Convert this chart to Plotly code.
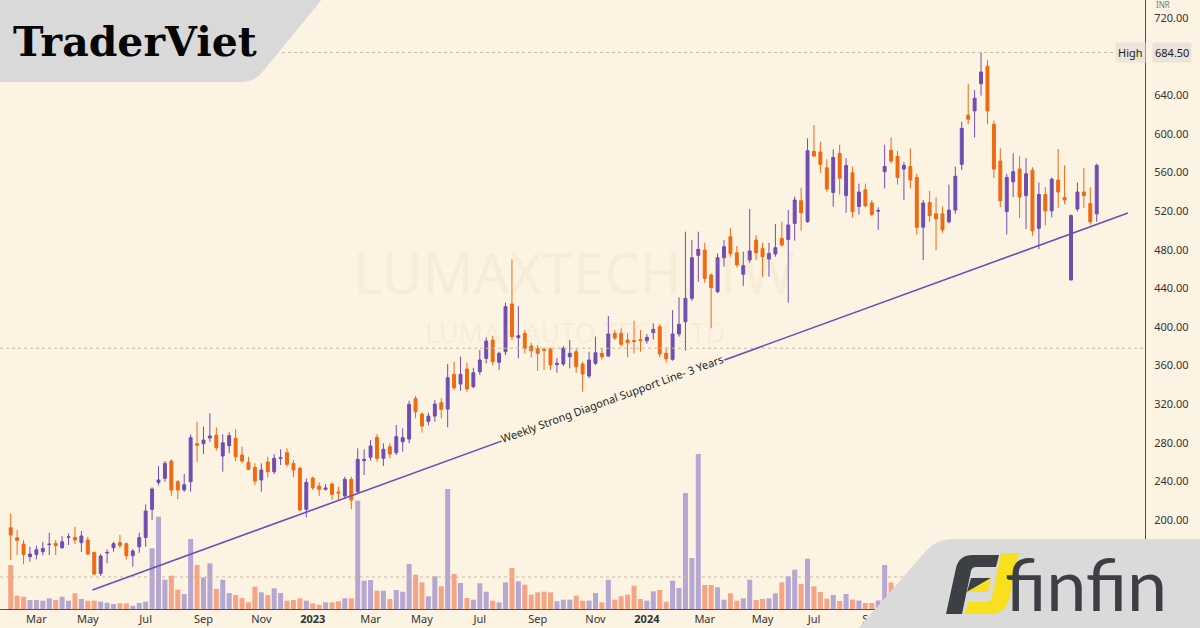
import pandas as pd
import plotly.graph_objects as go

# ---------------- data (weekly candles, INR) ----------------
first_week = "2022-02-07"
n_weeks = 170
week_dates = pd.date_range(first_week, periods=n_weeks, freq="7D")

opens = [
    192.0, 181.7, 175.1, 162.0, 164.4, 167.2, 174.5, 175.8, 171.3, 182.0,
    182.0, 176.5, 179.3, 166.5, 144.7, 165.8, 171.3, 176.5, 175.5, 163.0,
    172.3, 182.0, 211.1, 239.0, 243.2, 261.1, 239.7, 231.1, 239.7, 279.1,
    279.1, 285.0, 288.1, 266.3, 277.0, 284.7, 267.4, 259.8, 254.6, 241.5,
    260.1, 250.1, 263.9, 269.8, 258.7, 253.6, 211.1, 243.5, 235.2, 231.8,
    237.3, 229.0, 224.9, 242.2, 229.4, 261.5, 265.0, 285.7, 263.9, 276.0,
    269.8, 281.1, 283.9, 325.7, 309.8, 302.2, 307.7, 321.6, 315.0, 351.0,
    340.9, 356.5, 338.2, 353.7, 367.5, 386.5, 363.4, 374.4, 423.9, 389.0,
    393.5, 380.3, 377.9, 376.8, 377.1, 361.2, 361.7, 369.2, 374.4, 361.7,
    349.2, 362.4, 372.7, 369.9, 393.5, 393.5, 386.5, 386.0, 387.0, 385.8,
    394.2, 400.3, 372.7, 366.5, 392.8, 405.5, 429.7, 474.3, 479.8, 453.9,
    436.6, 471.8, 493.6, 477.0, 454.6, 469.4, 490.2, 481.5, 470.5, 475.7,
    491.9, 490.8, 507.4, 530.9, 509.2, 582.0, 581.4, 565.0, 539.5, 579.9,
    536.2, 559.9, 524.9, 542.2, 528.6, 520.0, 561.0, 583.3, 576.9, 563.7,
    566.3, 555.0, 503.4, 529.0, 517.3, 517.3, 509.0, 521.2, 568.6, 619.5,
    624.0, 652.2, 670.3, 610.1, 572.0, 519.6, 550.5, 563.7, 536.2, 562.6,
    502.3, 537.3, 520.4, 552.3, 534.3, 448.7, 522.3, 539.9, 527.9, 517.3,
]
highs = [
    206.9, 189.6, 179.3, 172.3, 173.4, 177.5, 186.9, 179.3, 183.4, 186.2,
    193.1, 188.6, 182.7, 167.2, 164.8, 169.6, 177.5, 184.5, 176.5, 170.0,
    186.9, 216.2, 233.9, 256.0, 261.1, 262.9, 241.5, 247.7, 288.8, 301.9,
    296.7, 310.6, 296.1, 288.8, 290.9, 294.0, 276.0, 265.6, 258.7, 258.7,
    265.6, 268.4, 273.3, 274.3, 262.2, 255.2, 243.2, 244.9, 239.0, 237.3,
    238.7, 234.5, 244.9, 244.9, 274.3, 273.3, 282.9, 289.1, 279.5, 279.5,
    298.4, 295.0, 323.6, 328.5, 311.9, 311.2, 324.4, 326.1, 361.7, 364.1,
    369.2, 363.0, 357.8, 376.2, 389.3, 390.7, 374.4, 425.2, 470.1, 421.8,
    396.9, 383.8, 381.4, 379.0, 379.0, 368.0, 380.3, 386.5, 377.9, 364.1,
    374.4, 390.0, 377.9, 411.4, 396.9, 398.7, 393.5, 406.6, 396.9, 392.8,
    403.8, 403.1, 379.0, 417.6, 430.8, 498.8, 490.2, 498.8, 487.4, 455.7,
    476.3, 490.2, 502.3, 484.0, 478.1, 522.3, 495.4, 487.4, 487.4, 506.7,
    509.2, 521.3, 535.1, 544.4, 595.5, 609.3, 592.0, 573.8, 584.1, 588.9,
    575.0, 566.3, 548.6, 548.6, 531.6, 524.2, 588.9, 596.5, 582.5, 571.2,
    585.2, 558.8, 531.6, 541.1, 534.7, 524.9, 547.5, 566.3, 612.7, 652.2,
    645.4, 684.5, 676.7, 613.8, 585.2, 558.8, 579.9, 576.9, 575.0, 565.6,
    549.8, 544.9, 555.0, 584.5, 567.5, 516.6, 549.8, 564.8, 544.9, 569.3,
]
lows = [
    158.5, 163.7, 154.1, 156.8, 159.2, 163.4, 163.7, 163.7, 170.0, 174.1,
    175.1, 166.8, 163.7, 142.7, 142.0, 155.1, 167.2, 170.6, 159.2, 151.6,
    166.1, 172.3, 200.0, 235.9, 239.7, 225.2, 221.8, 229.4, 229.4, 260.4,
    268.4, 281.1, 272.0, 250.1, 269.1, 261.1, 258.7, 251.8, 236.3, 229.4,
    244.2, 247.7, 257.0, 255.2, 244.2, 209.7, 202.8, 231.1, 224.9, 230.4,
    220.7, 220.0, 222.5, 211.1, 227.7, 246.6, 261.5, 260.4, 256.0, 263.9,
    267.4, 270.8, 279.5, 305.4, 290.5, 298.1, 301.9, 305.4, 296.1, 334.7,
    334.0, 333.0, 336.5, 350.3, 362.4, 360.6, 355.5, 371.0, 386.5, 367.5,
    372.7, 368.6, 354.7, 355.5, 355.5, 352.7, 359.6, 357.2, 352.7, 333.0,
    346.8, 360.6, 366.5, 369.2, 386.5, 379.6, 368.6, 372.7, 374.4, 382.8,
    387.2, 368.6, 363.0, 365.1, 390.0, 375.5, 427.0, 447.0, 445.9, 398.7,
    435.0, 462.6, 472.9, 461.9, 442.5, 466.6, 469.4, 452.2, 452.2, 472.9,
    483.2, 425.2, 489.5, 499.9, 508.0, 576.5, 559.8, 540.2, 524.7, 537.3,
    518.5, 513.6, 516.6, 524.2, 515.0, 500.8, 543.7, 569.3, 547.5, 531.6,
    543.7, 495.9, 469.4, 509.0, 479.7, 497.7, 507.2, 517.3, 562.6, 610.1,
    596.5, 639.8, 610.1, 554.3, 524.2, 495.9, 534.7, 512.9, 501.6, 494.7,
    480.8, 505.3, 513.6, 523.3, 527.2, 448.7, 519.6, 523.3, 506.0, 509.0,
]
closes = [
    184.5, 178.9, 164.4, 164.8, 169.3, 170.6, 175.0, 173.4, 177.5, 182.6,
    179.3, 183.4, 164.8, 144.0, 162.7, 166.4, 175.5, 173.7, 163.0, 167.9,
    181.7, 209.3, 232.1, 241.5, 258.7, 231.1, 231.1, 236.6, 285.3, 277.4,
    282.9, 287.1, 274.9, 280.1, 287.4, 265.6, 261.1, 252.5, 240.4, 251.8,
    250.1, 263.9, 264.6, 257.7, 251.8, 210.4, 239.0, 233.5, 231.8, 233.2,
    226.6, 228.0, 242.2, 220.7, 262.9, 262.9, 276.7, 263.9, 273.3, 268.4,
    286.4, 285.3, 319.9, 312.2, 297.4, 307.7, 320.2, 314.7, 347.5, 337.1,
    351.0, 335.8, 352.7, 365.8, 385.5, 364.1, 372.7, 421.1, 390.0, 391.0,
    377.9, 375.5, 372.7, 375.8, 360.6, 362.4, 377.9, 372.7, 358.9, 351.3,
    365.8, 373.4, 369.2, 392.8, 388.6, 382.1, 383.8, 385.0, 386.0, 389.3,
    397.6, 372.0, 367.2, 392.8, 402.8, 429.7, 471.8, 480.5, 450.4, 440.8,
    471.8, 483.2, 476.3, 464.3, 463.6, 478.8, 477.0, 472.9, 476.3, 482.2,
    485.0, 505.7, 531.6, 518.5, 582.7, 577.2, 568.6, 543.0, 575.8, 554.3,
    567.5, 519.6, 539.9, 525.6, 516.6, 520.8, 566.3, 572.0, 555.0, 567.5,
    552.3, 503.4, 528.6, 515.5, 512.1, 500.8, 521.2, 556.2, 605.9, 615.4,
    637.1, 664.3, 624.0, 563.7, 530.9, 555.0, 561.0, 534.7, 558.8, 499.7,
    537.3, 520.4, 553.2, 539.9, 531.6, 515.5, 539.9, 536.2, 509.0, 567.5,
]
volume_k = [
    440, 133, 123, 90, 90, 83, 107, 90, 123, 83,
    157, 100, 83, 83, 73, 63, 50, 57, 57, 33,
    60, 73, 607, 923, 293, 333, 193, 150, 700, 440,
    317, 457, 200, 293, 160, 140, 110, 67, 223, 167,
    140, 207, 160, 83, 90, 107, 83, 57, 43, 67,
    67, 77, 107, 107, 1083, 283, 290, 183, 183, 100,
    190, 173, 450, 343, 267, 127, 327, 227, 1200, 350,
    260, 110, 93, 257, 173, 83, 67, 267, 410, 277,
    243, 143, 167, 173, 167, 77, 93, 93, 133, 83,
    83, 160, 67, 293, 93, 127, 143, 233, 100, 83,
    177, 190, 73, 283, 210, 1160, 510, 1550, 240, 240,
    217, 93, 157, 83, 107, 293, 90, 100, 107, 157,
    267, 327, 393, 250, 503, 227, 170, 103, 140, 80,
    150, 95, 85, 60, 60, 85, 440, 265, 180, 120,
    150, 220, 200, 120, 140, 100, 120, 180, 300, 250,
    200, 350, 300, 280, 200, 160, 120, 140, 120, 180,
    150, 100, 120, 140, 80, 200, 120, 100, 90, 140,
]

price_ticks = [200, 240, 280, 320, 360, 400, 440, 480, 520, 560, 600, 640, 720]
high_price = 684.5
low_price = 141.0
ref_price = 378.0
trend_dates = ["2022-05-07", "2025-06-08"]
trend_prices = [127.5, 518.1]
trend_text = "Weekly Strong Diagonal Support Line- 3 Years"
last_tick_date = "2024-09-30"

# ---------------- styles ----------------
BG = "#fdf3e3"
PURPLE = "#6f4db2"
ORANGE = "#ee6a12"
VOL_UP = "#b6a6d2"
VOL_DN = "#f5a586"
AXIS = "#4e4e4e"
DOT = "#cbb9a2"
FONT = "Noto Sans"

PW, PH = 1145, 609  # plot area size in px (margins l=0, t=0)


def fx(x):
    return x / PW


def fy(y):
    return 1 - y / PH


def path(*cmds):
    out = []
    for c in cmds:
        if c[0] == "Z":
            out.append("Z")
        elif c[0] == "Q":
            out.append(f"Q{fx(c[1]):.5f},{fy(c[2]):.5f} {fx(c[3]):.5f},{fy(c[4]):.5f}")
        else:
            out.append(f"{c[0]}{fx(c[1]):.5f},{fy(c[2]):.5f}")
    return " ".join(out)


vol_colors = [VOL_UP if c >= o else VOL_DN for o, c in zip(opens, closes)]

fig = go.Figure()
fig.add_trace(go.Bar(
    x=week_dates, y=volume_k, marker=dict(color=vol_colors, line=dict(width=0)),
    yaxis="y", hoverinfo="skip", showlegend=False,
))
fig.add_trace(go.Candlestick(
    x=week_dates, open=opens, high=highs, low=lows, close=closes,
    yaxis="y2", whiskerwidth=0, showlegend=False, hoverinfo="skip",
    increasing=dict(line=dict(color=PURPLE, width=1), fillcolor=PURPLE),
    decreasing=dict(line=dict(color=ORANGE, width=1), fillcolor=ORANGE),
))

# x ticks: first weekly bar of each odd month
tickvals, ticktext = [], []
seen = set()
for d in week_dates:
    if d > pd.Timestamp(last_tick_date):
        break
    key = (d.year, d.month)
    if d.month % 2 == 1 and key not in seen:
        seen.add(key)
        tickvals.append(d)
        ticktext.append(f"<b>{d.year}</b>" if d.month == 1 else d.strftime("%b"))

d0 = week_dates[0]
x_range = [d0 - pd.Timedelta(days=11.66), d0 + pd.Timedelta(days=1235.6)]

shapes = []
# dotted reference lines
shapes.append(dict(type="line", xref="paper", yref="y2", x0=0, x1=fx(1116),
                   y0=high_price, y1=high_price, line=dict(color=DOT, width=1, dash="dot")))
for lvl in (ref_price, low_price):
    shapes.append(dict(type="line", xref="paper", yref="y2", x0=0, x1=1,
                       y0=lvl, y1=lvl, line=dict(color=DOT, width=1, dash="dot")))
# diagonal support line
shapes.append(dict(type="line", xref="x", yref="y2",
                   x0=trend_dates[0], x1=trend_dates[1], y0=trend_prices[0], y1=trend_prices[1],
                   line=dict(color="#6a4fb6", width=1.6), layer="above"))
# TraderViet badge
shapes.append(dict(type="path", xref="paper", yref="paper", layer="above",
                   path=path(("M", -2, -2), ("L", 323, -2), ("L", 264, 70), ("Q", 256, 82, 240, 82),
                             ("L", -2, 82), ("Z",)),
                   fillcolor="#d9d9d9", line=dict(width=0)))
# finfin badge
shapes.append(dict(type="path", xref="paper", yref="paper", layer="above",
                   path=path(("M", 857, 630), ("L", 926, 551), ("Q", 936, 539, 953, 539),
                             ("L", 1202, 539), ("L", 1202, 630), ("Z",)),
                   fillcolor="#dadada", line=dict(width=0)))
# finfin icon: dark F
shapes.append(dict(type="path", xref="paper", yref="paper", layer="above",
                   path=path(("M", 946, 614), ("L", 956, 568), ("Q", 959, 555, 973, 555),
                             ("L", 999, 555), ("L", 996, 567), ("L", 976, 567),
                             ("Q", 972, 567, 971, 571), ("L", 962, 614), ("Z",)),
                   fillcolor="#3c3f43", line=dict(width=0)))
shapes.append(dict(type="path", xref="paper", yref="paper", layer="above",
                   path=path(("M", 971, 578), ("L", 991, 578), ("L", 967, 592), ("Z",)),
                   fillcolor="#3c3f43", line=dict(width=0)))
# yellow parts
shapes.append(dict(type="path", xref="paper", yref="paper", layer="above",
                   path=path(("M", 991, 578), ("L", 988, 592), ("L", 967, 592), ("Z",)),
                   fillcolor="#f8e01f", line=dict(width=0)))
shapes.append(dict(type="path", xref="paper", yref="paper", layer="above",
                   path=path(("M", 1001, 553), ("L", 1019, 553), ("L", 1009, 600),
                             ("Q", 1005, 614, 989, 614), ("L", 965, 614), ("L", 968, 602),
                             ("L", 987, 602), ("Q", 991, 602, 992, 597), ("Z",)),
                   fillcolor="#f8e01f", line=dict(width=0)))


def ann(text, x, y, size, color, family=FONT, **kw):
    d = dict(text=text, x=fx(x), y=fy(y), xref="paper", yref="paper", showarrow=False,
             font=dict(size=size, color=color, family=family),
             xanchor="center", yanchor="middle")
    d.update(kw)
    return d


annotations = [
    ann("LUMAXTECH, 1W", 574, 272, 56, "rgba(205,165,120,0.10)"),
    ann("LUMAX AUTO TECH LTD", 575, 332, 27, "rgba(205,165,120,0.10)"),
    ann(trend_text, 612, 398, 11, "#1f1f1f", textangle=-20, bgcolor=BG, borderpad=0),
    ann("High", 1130, 52.5, 11, "#222222", bgcolor="#ebe5dc", borderpad=2),
    ann("684.50", 1172, 52.5, 11, "#222222", bgcolor="#e9e3da", borderpad=2),
    ann("INR", 1163, 5, 8, "#777777"),
    ann("<b>TraderViet</b>", 135, 42, 41, "#050505", family="DejaVu Serif"),
    ann("finfin", 1086, 583, 72, "#3c3f43", family="Lato"),
]

fig.update_layout(
    width=1200, height=628,
    margin=dict(l=0, r=55, t=0, b=19),
    paper_bgcolor=BG, plot_bgcolor=BG,
    showlegend=False, bargap=0.22, boxgap=0.35,
    xaxis=dict(type="date", range=x_range, rangeslider=dict(visible=False),
               showgrid=False, zeroline=False, showline=True, linecolor=AXIS, linewidth=1,
               tickvals=tickvals, ticktext=ticktext, ticks="",
               tickfont=dict(size=11, color="#333333", family=FONT)),
    yaxis=dict(range=[0, 6090], visible=False, showgrid=False, fixedrange=True),
    yaxis2=dict(overlaying="y", side="right", range=[107.8, 738.9],
                tickvals=price_ticks, ticktext=[f"{v:.2f}" for v in price_ticks],
                showgrid=False, zeroline=False, showline=True, linecolor=AXIS, linewidth=1,
                ticks="", ticklabelstandoff=6,
                tickfont=dict(size=11, color="#333333", family=FONT)),
    shapes=shapes, annotations=annotations,
)

fig.write_html(
    "out.html",
    config={"displayModeBar": False, "staticPlot": True},
    post_script="document.body.style.margin='0px';document.body.style.overflow='hidden';",
)
